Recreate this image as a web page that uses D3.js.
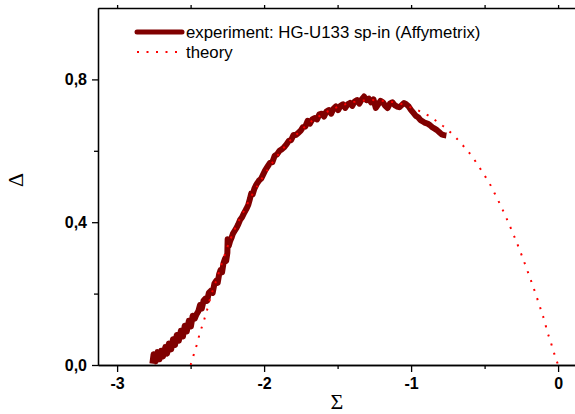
<!DOCTYPE html>
<meta charset="utf-8">
<style>
    body { margin: 0; background: #fff; }
    .axis text { font: bold 16px "Liberation Sans", Arial, sans-serif; fill: #000; }
    .axis path, .axis line { stroke: #000; stroke-width: 1.3px; }
    .legend text { font: 16.8px "Liberation Sans", Arial, sans-serif; fill: #000; }
    .title { font: 22px "Liberation Serif", "Times New Roman", serif; fill: #000; }
</style>
<svg width="575" height="414"></svg>
<script src="https://d3js.org/d3.v7.min.js"></script>
<script>

    // experiment: HG-U133 spike-in (Affymetrix)
    var expSigma = [-2.760, -2.752, -2.738, -2.725, -2.712, -2.700, -2.688, -2.672, -2.660, -2.648,
        -2.632, -2.620, -2.606, -2.594, -2.580, -2.566, -2.552, -2.540, -2.526, -2.512,
        -2.498, -2.486, -2.472, -2.460, -2.448, -2.436, -2.424, -2.412, -2.400, -2.388,
        -2.376, -2.362, -2.350, -2.338, -2.326, -2.316, -2.306, -2.296, -2.286, -2.276,
        -2.266, -2.258, -2.250, -2.248, -2.240, -2.232, -2.222, -2.212, -2.200, -2.188,
        -2.176, -2.164, -2.150, -2.136, -2.122, -2.108, -2.096, -2.088, -2.078, -2.066,
        -2.052, -2.036, -2.020, -2.006, -1.992, -1.976, -1.960, -1.944, -1.928, -1.912,
        -1.896, -1.880, -1.864, -1.848, -1.832, -1.816, -1.800, -1.784, -1.768, -1.752,
        -1.736, -1.720, -1.704, -1.688, -1.672, -1.656, -1.640, -1.624, -1.608, -1.592,
        -1.576, -1.560, -1.544, -1.528, -1.512, -1.496, -1.480, -1.464, -1.448, -1.432,
        -1.416, -1.400, -1.384, -1.368, -1.352, -1.336, -1.320, -1.304, -1.288, -1.272,
        -1.256, -1.240, -1.224, -1.208, -1.192, -1.176, -1.160, -1.144, -1.128, -1.112,
        -1.096, -1.080, -1.064, -1.048, -1.032, -1.016, -1.000, -0.984, -0.968, -0.952,
        -0.936, -0.920, -0.904, -0.888, -0.872, -0.856, -0.840, -0.824, -0.808, -0.792,
        -0.776, -0.760];
    var expDelta = [0.004, 0.030, 0.010, 0.036, 0.016, 0.040, 0.024, 0.050, 0.032, 0.060,
        0.044, 0.072, 0.056, 0.084, 0.068, 0.096, 0.080, 0.110, 0.094, 0.124,
        0.108, 0.138, 0.130, 0.142, 0.150, 0.168, 0.158, 0.180, 0.186, 0.180,
        0.202, 0.208, 0.202, 0.228, 0.236, 0.230, 0.254, 0.266, 0.260, 0.286,
        0.298, 0.292, 0.314, 0.352, 0.334, 0.346, 0.356, 0.368, 0.376, 0.384,
        0.394, 0.406, 0.414, 0.426, 0.436, 0.448, 0.466, 0.480, 0.478, 0.494,
        0.506, 0.516, 0.522, 0.534, 0.546, 0.556, 0.566, 0.568, 0.586, 0.590,
        0.600, 0.604, 0.610, 0.618, 0.628, 0.630, 0.644, 0.644, 0.650, 0.656,
        0.666, 0.668, 0.684, 0.676, 0.688, 0.692, 0.688, 0.702, 0.704, 0.696,
        0.710, 0.714, 0.704, 0.718, 0.724, 0.714, 0.726, 0.730, 0.720, 0.730,
        0.734, 0.726, 0.738, 0.742, 0.732, 0.744, 0.752, 0.742, 0.746, 0.736,
        0.744, 0.720, 0.730, 0.740, 0.736, 0.726, 0.720, 0.732, 0.736, 0.728,
        0.724, 0.722, 0.728, 0.734, 0.730, 0.724, 0.714, 0.706, 0.698, 0.694,
        0.686, 0.682, 0.678, 0.676, 0.672, 0.666, 0.662, 0.658, 0.652, 0.646,
        0.644, 0.643];

    // theory curve
    var theorySigma = [-2.500, -2.492, -2.474, -2.454, -2.437, -2.415, -2.399, -2.379, -2.363, -2.340,
        -2.318, -2.295, -2.250, -2.200, -2.145, -2.084, -2.030, -1.971, -1.925, -1.875,
        -1.823, -1.760, -1.699, -1.637, -1.574, -1.510, -1.449, -1.386, -1.318, -1.260,
        -1.195, -1.131, -1.075, -1.011, -0.946, -0.884, -0.821, -0.760, -0.696, -0.637,
        -0.587, -0.544, -0.505, -0.467, -0.433, -0.350, -0.300, -0.250, -0.200, -0.150,
        -0.130, -0.110, -0.090, -0.075, -0.054, -0.034, -0.014, 0.000];
    var theoryDelta = [0.000, 0.010, 0.036, 0.062, 0.090, 0.116, 0.139, 0.167, 0.193, 0.219,
        0.246, 0.275, 0.330, 0.380, 0.425, 0.475, 0.512, 0.550, 0.578, 0.604,
        0.629, 0.653, 0.676, 0.694, 0.709, 0.721, 0.730, 0.737, 0.741, 0.742,
        0.740, 0.737, 0.732, 0.723, 0.712, 0.699, 0.681, 0.662, 0.637, 0.610,
        0.585, 0.559, 0.534, 0.509, 0.482, 0.410, 0.362, 0.310, 0.254, 0.196,
        0.171, 0.146, 0.120, 0.095, 0.070, 0.042, 0.017, 0.000];

    var xMajor = [-3, -2, -1, 0],
        xMinor = [-2.5, -1.5, -0.5],
        yMajor = [0, 0.4, 0.8],
        yMinor = [0.2, 0.6];

    var legendLabels = ["experiment: HG-U133 sp-in (Affymetrix)", "theory"];

    var svg = d3.select("svg"),
        margin = {left: 98, top: 8, right: 0, bottom: 49},
        width = +svg.attr("width") - margin.left - margin.right,
        height = +svg.attr("height") - margin.top - margin.bottom;

    var x = d3.scaleLinear().domain([-3.13, 0.115]).range([margin.left, margin.left + width]);
    var y = d3.scaleLinear().domain([0, 1.0]).range([margin.top + height, margin.top]);

    var fmt = function (d) { return d3.format(".1f")(d).replace(".", ","); };

    svg.append("clipPath").attr("id", "plot")
        .append("rect")
        .attr("x", margin.left).attr("y", margin.top)
        .attr("width", width).attr("height", height);

    // minor ticks first, so the major axis sits on top
    svg.append("g").attr("class", "axis")
        .attr("transform", "translate(0," + (margin.top + height) + ")")
        .call(d3.axisBottom(x).tickValues(xMinor).tickSize(4).tickSizeOuter(0).tickFormat(""));
    svg.append("g").attr("class", "axis")
        .attr("transform", "translate(" + margin.left + ",0)")
        .call(d3.axisLeft(y).tickValues(yMinor).tickSize(4).tickSizeOuter(0).tickFormat(""));
    svg.append("g").attr("class", "axis")
        .attr("transform", "translate(0," + margin.top + ")")
        .call(d3.axisTop(x).tickValues(xMajor.concat(xMinor)).tickSize(3).tickSizeOuter(0).tickFormat(""));

    svg.append("g").attr("class", "axis")
        .attr("transform", "translate(0," + (margin.top + height) + ")")
        .call(d3.axisBottom(x).tickValues(xMajor).tickSize(7).tickSizeOuter(0).tickPadding(6)
            .tickFormat(function (d) { return d; }));
    svg.append("g").attr("class", "axis")
        .attr("transform", "translate(" + margin.left + ",0)")
        .call(d3.axisLeft(y).tickValues(yMajor).tickSize(6).tickSizeOuter(0).tickPadding(5)
            .tickFormat(fmt));

    svg.selectAll(".axis .tick text").attr("font-family", null);

    // axis titles
    svg.append("text").attr("class", "title")
        .attr("transform", "translate(23,180) rotate(-90)")
        .attr("text-anchor", "middle")
        .text("\u0394");
    svg.append("text").attr("class", "title")
        .attr("x", 337).attr("y", 409)
        .attr("text-anchor", "middle")
        .text("\u03A3");

    var line = d3.line()
        .x(function (d) { return x(d[0]); })
        .y(function (d) { return y(d[1]); });

    var plot = svg.append("g").attr("clip-path", "url(#plot)");

    plot.append("path")
        .datum(d3.zip(expSigma, expDelta))
        .attr("fill", "none")
        .attr("stroke", "#800000")
        .attr("stroke-width", 6)
        .attr("stroke-linejoin", "round")
        .attr("d", line);

    plot.append("path")
        .datum(d3.zip(theorySigma, theoryDelta))
        .attr("fill", "none")
        .attr("stroke", "#ff0000")
        .attr("stroke-width", 2)
        .attr("stroke-dasharray", "2,7.5")
        .attr("d", line.curve(d3.curveMonotoneX));

    // legend
    var legend = svg.append("g").attr("class", "legend");
    var rows = legend.selectAll("g")
        .data(legendLabels)
        .enter().append("g")
        .attr("transform", function (d, i) { return "translate(137," + (32 + i * 20) + ")"; });

    rows.append("line")
        .attr("x1", 0).attr("x2", 45)
        .attr("stroke", function (d, i) { return i === 0 ? "#800000" : "#ff0000"; })
        .attr("stroke-width", function (d, i) { return i === 0 ? 5 : 2; })
        .attr("stroke-linecap", function (d, i) { return i === 0 ? "round" : "butt"; })
        .attr("stroke-dasharray", function (d, i) { return i === 0 ? null : "2,7.5"; });

    rows.append("text")
        .attr("x", 49)
        .attr("dy", "0.35em")
        .text(function (d) { return d; });
</script>
